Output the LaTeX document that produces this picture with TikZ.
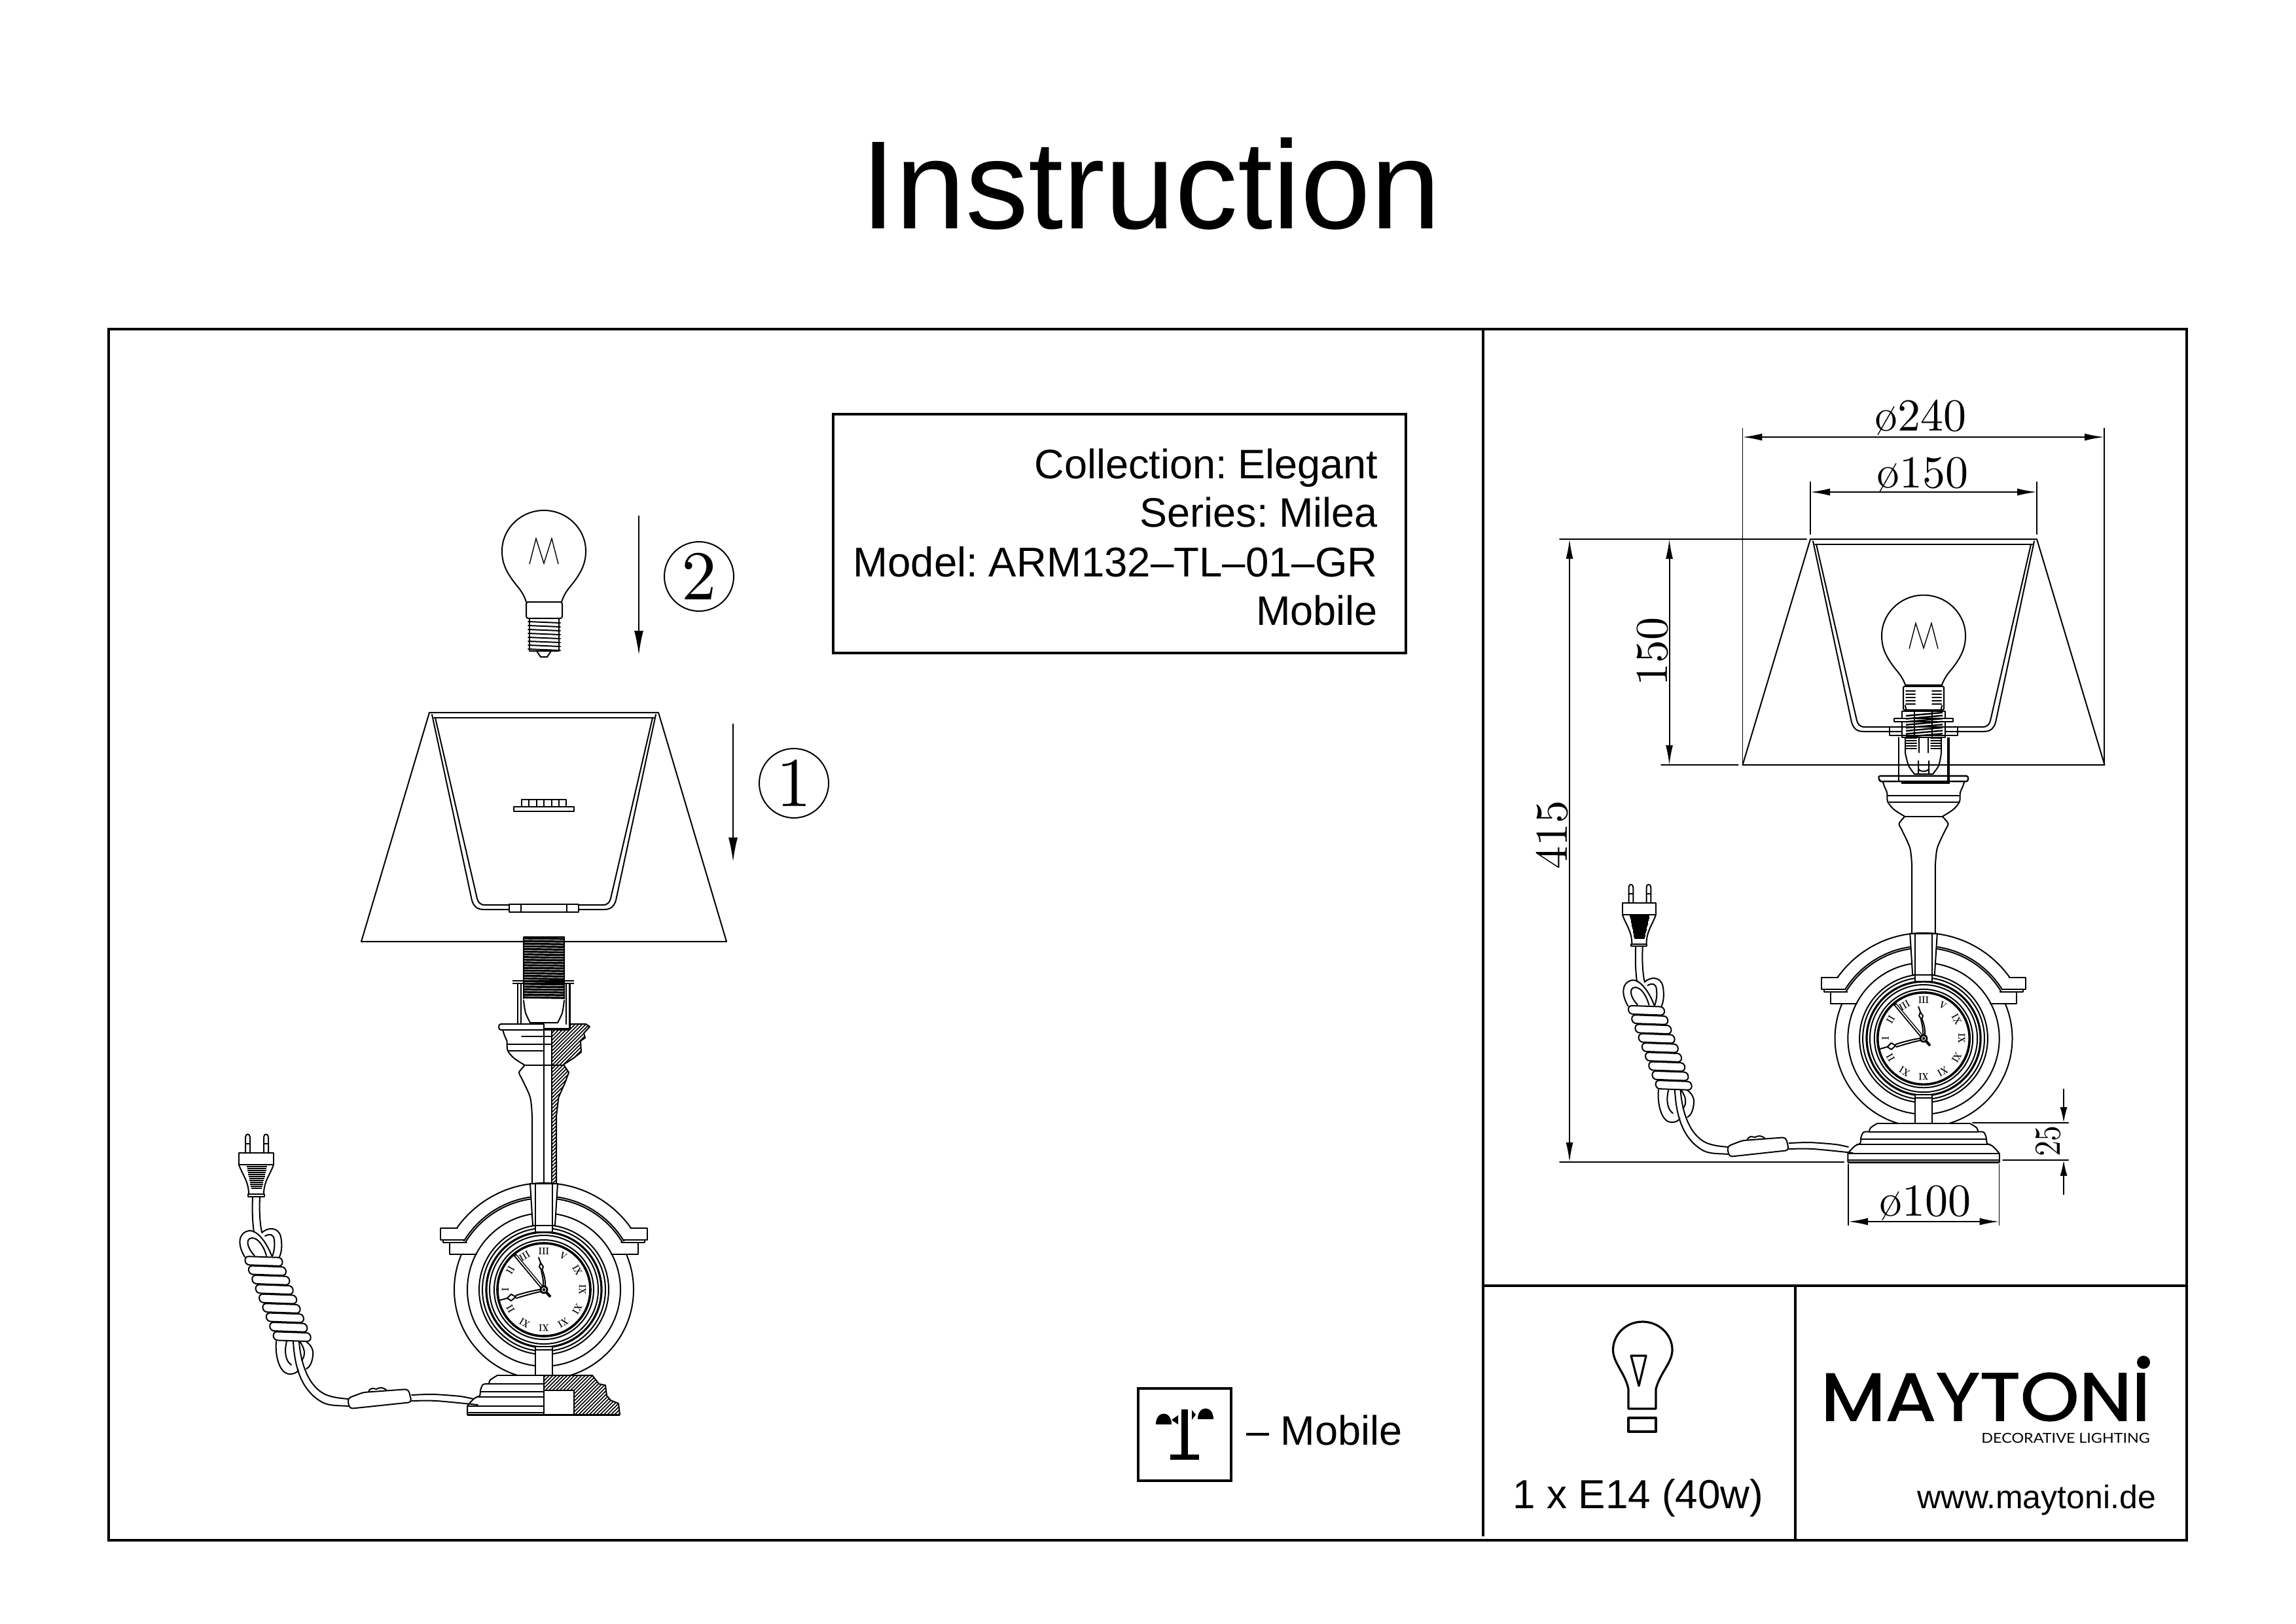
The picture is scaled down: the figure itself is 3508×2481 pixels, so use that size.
\documentclass[tikz,border=0pt]{standalone}
\usepackage{fontspec}
\setsansfont{Liberation Sans}
\newfontfamily\tightsans{Liberation Sans}[WordSpace=0.6]
\newfontfamily\logofont{Poppins}[FakeBold=1.5]
\newfontfamily\subfont{Lato}
\newfontfamily\dimfont{lmroman10-regular}[Extension=.otf]
\newfontfamily\numfont{lmroman10-bold}[Extension=.otf]
\usetikzlibrary{arrows.meta}
\newcommand\fz[1]{\fontsize{#1}{#1}\selectfont}
\tikzset{
  ln/.style={line width=2pt,line join=round,line cap=round},
  thk/.style={line width=3.2pt,line join=round},
  frameline/.style={line width=4pt},
  sans/.style={font=\sffamily,inner sep=0pt},
  dimtxt/.style={inner sep=0pt},
  arr/.style={line width=2pt,-{Latex[length=37pt,width=14pt]}},
  dimarr/.style={line width=2pt,{Latex[length=30pt,width=11pt]}-{Latex[length=30pt,width=11pt]}},
  dimone/.style={line width=2pt,-{Latex[length=24pt,width=11pt]}},
  digit/.style={circle,draw,line width=2pt,minimum size=106pt,inner sep=0pt}
}
% ---- bulb glass, relative to its top centre
\newcommand\bulbglass[2]{%
 \begin{scope}[shift={(#1,#2)}]
  \draw[ln] (-27,140) .. controls (-33,122) and (-40,118) .. (-49,105)
     .. controls (-58,92) and (-64,80) .. (-64,62)
     .. controls (-64,28) and (-35,0) .. (0,0)
     .. controls (35,0) and (64,28) .. (64,62)
     .. controls (64,80) and (58,92) .. (49,105)
     .. controls (40,118) and (33,122) .. (27,140);
  \draw[line width=1.4pt,line join=miter] (-22,82) -- (-12,43) -- (0,81) -- (12,43) -- (22,82);
 \end{scope}}
% ---- shade with its wire frame
\newcommand\lampshade[6]{% cx, ytop, ybot, halftop, halfbot, hubY
 \begin{scope}[shift={(#1,0)}]
  \draw[ln] (-#4,#2) -- (#4,#2) -- (#5,#3) -- (-#5,#3) -- cycle;
  \draw[ln] (-#4+7,#2+8) -- (#4-7,#2+8);
  \draw[ln] (-#4+4,#2+3) -- (-110,#6-7) .. controls (-108,#6) and (-104,#6+7) .. (-92,#6+7) -- (92,#6+7)
        .. controls (104,#6+7) and (108,#6) .. (110,#6-7) -- (#4-4,#2+3);
  \draw[ln] (-#4+9,#2+8) -- (-103,#6-14) .. controls (-101,#6-4) and (-98,#6) .. (-90,#6) -- (90,#6)
        .. controls (98,#6) and (101,#6-4) .. (103,#6-14) -- (#4-9,#2+8);
 \end{scope}}
% ---- parts that both views share
\newcommand\ledge{%
  \draw[ln,fill=white] (699,1877) -- (673,1877) -- (673,1895) -- (710,1895);
  \draw[ln] (677,1895) -- (677,1899) -- (713,1899);
  \draw[ln] (687,1899) -- (687,1917) -- (728,1917);
}
\newcommand\halflamp{%
  \draw[ln,fill=white] (831,1565) -- (765,1565) .. controls (761,1565) and (761,1574) .. (765,1574) -- (831,1574);
  \draw[ln] plot[smooth] coordinates {(768,1574) (771,1583) (774.5,1591) (775.5,1605) (785,1617) (802,1628)};
  \draw[ln] (802,1628) -- (831,1628);
  \draw[ln] (775,1596) -- (831,1596) (776,1606) -- (831,1606);
  \draw[ln] plot[smooth] coordinates {(802,1628) (793,1639) (797,1648) (810,1677) (813,1706)} -- (813,1809);
  \draw[ln] (760,2102) -- (831,2102);
  \draw[ln] plot[smooth] coordinates {(760,2102) (749,2109) (747,2115)};
  \draw[ln] plot[smooth] coordinates {(747,2115) (738,2116) (734,2125) (733,2133) (725,2137) (717,2145) (714,2149)} -- (714,2162);
  \draw[ln] (747,2115) -- (831,2115) (734,2127) -- (831,2127) (728,2135) -- (831,2135) (714,2149) -- (831,2149) (714,2159) -- (831,2159);
  \draw[line width=3pt] (714,2162) -- (831,2162);
}
\newcommand\clockparts{%
  \begin{scope}\clip (500,1700) rectangle (1160,1877); \draw[ln] (831,1971) circle (163pt); \end{scope}
  \begin{scope}\clip (500,1700) rectangle (1160,1896); \draw[ln] (831,1971) circle (143pt); \end{scope}
  \begin{scope}\clip (500,1700) rectangle (1160,1899); \draw[ln] (831,1971) circle (140pt); \end{scope}
  \begin{scope}\clip (500,1917) rectangle (1160,2102); \draw[ln] (831,1971) circle (137pt); \end{scope}
  \begin{scope}\clip (500,1700) rectangle (1160,2102); \draw[ln] (831,1971) circle (117pt); \end{scope}
  \ledge
  \begin{scope}[shift={(1662,0)},xscale=-1]\ledge\end{scope}
  \draw[ln,fill=white] (831,1971) circle (99pt);
  \draw[ln] (831,1971) circle (94pt);
  \draw[thk] (831,1971) circle (88pt);
  \draw[ln] (831,1971) circle (83pt);
  \draw[ln] (831,1971) circle (76pt);
  \draw[line width=3.6pt] (831,1971) circle (71pt);
  \draw[ln,fill=white] (810,1809) -- (852,1809) -- (848,1873) -- (814,1873) -- cycle;
  \draw[ln] (818,1809) -- (818,1873) (844,1809) -- (844,1873);
  \draw[ln,fill=white] (818,1873) rectangle (844,1883);
  \draw[ln,fill=white] (818,2102) -- (818,2058) -- (844,2058) -- (844,2102);
  \draw[ln] (818,2063) -- (844,2063);
  \foreach \t/\a in {III/0,V/30,IX/60,IX/90,XI/120,XI/150,XI/180,XI/210,II/240,I/270,II/300,III/330}
    \node[inner sep=0pt,rotate=-\a,font=\numfont\fz{15}] at ({831+59*sin(\a)},{1971-59*cos(\a)}) {\scalebox{.78}[1]{\t}};
  \draw[line width=5pt] (831,1971) -- (786,1917);
  \draw[white,line width=1.6pt] (828,1967) -- (788,1919);
  \draw[line width=4pt] (831,1971) -- (841,1982);
  \draw[ln] (830,1971) .. controls (831,1960) and (829,1950) .. (827,1942);
  \draw[ln] (833,1971) .. controls (834,1960) and (832,1950) .. (829,1942);
  \draw[ln,fill=white] (828,1942) -- (824,1936) -- (826,1930) -- (830,1936) -- cycle;
  \draw[ln] (826,1930) -- (823,1922);
  \draw[ln] (831,1970) .. controls (815,1972) and (800,1976) .. (788,1980);
  \draw[ln] (831,1973) .. controls (815,1976) and (802,1980) .. (789,1984);
  \draw[ln,fill=white] (788,1982) -- (781,1978) -- (775,1984) -- (781,1988) -- cycle;
  \draw[ln] (775,1984) -- (764,1987);
  \fill (831,1971) circle (6.5pt);
  \draw[white,line width=1pt] (831,1971) circle (3pt);
}
% ---- cord with plug, coil and switch
\newcommand\cord{%
  \draw[ln] (375,1762) -- (375,1738) .. controls (375,1732) and (382,1732) .. (382,1738) -- (382,1762);
  \draw[ln] (375,1748) -- (382,1748);
  \draw[ln] (403,1762) -- (403,1738) .. controls (403,1732) and (410,1732) .. (410,1738) -- (410,1762);
  \draw[ln] (403,1748) -- (410,1748);
  \draw[ln] (365,1762) rectangle (418,1780);
  \draw[ln] (365,1780) .. controls (370,1795) and (380,1805) .. (380,1825);
  \draw[ln] (418,1780) .. controls (413,1795) and (403,1805) .. (403,1825);
  \draw[ln] (379,1825) rectangle (404,1829);
  \foreach \i in {0,...,11}
    \draw[line width=2.8pt] ({377+\i*0.6},{1783+3*\i}) -- ({408-\i*0.7},{1783+3*\i});
  \draw[ln] (386,1830) .. controls (385,1850) and (386,1870) .. (388,1883);
  \draw[ln] (397,1830) .. controls (396,1850) and (397,1870) .. (400,1883);
  % top knot
  \draw[ln] (374,1921) .. controls (364,1905) and (362,1885) .. (380,1881) .. controls (395,1879) and (410,1905) .. (415,1919);
  \draw[ln] (389,1919) .. controls (378,1908) and (374,1893) .. (385,1892) .. controls (396,1892) and (404,1908) .. (407,1919);
  \draw[ln] (400,1884) .. controls (408,1876) and (425,1874) .. (429,1890) .. controls (431,1900) and (431,1912) .. (427,1921);
  \draw[ln] (405,1889) .. controls (412,1885) and (418,1886) .. (419,1895) .. controls (420,1905) and (419,1912) .. (416,1920);
  % bottom loops
  \draw[ln] (422,2050) .. controls (420,2075) and (428,2100) .. (443,2100) .. controls (450,2100) and (454,2097) .. (456,2094);
  \draw[ln] (438,2050) .. controls (434,2065) and (436,2080) .. (445,2086);
  \draw[ln] (462,2047) .. controls (472,2052) and (480,2060) .. (478,2072) .. controls (477,2082) and (473,2090) .. (468,2092);
  \draw[ln] (458,2050) .. controls (465,2060) and (468,2070) .. (461,2079);
  % coil
  \foreach \i in {8,7,...,0}{
    \pgfmathsetmacro\xx{374+5.4*\i}
    \pgfmathsetmacro\yy{1920+14.4*\i}
    \draw[ln,fill=white,rounded corners=6pt] (\xx,\yy) -- ({\xx+57},{\yy+2}) -- ({\xx+58},{\yy+15}) -- ({\xx+1},{\yy+13}) -- cycle;
  }
  % cord to the switch and to the base
  \draw[ln] (448,2050) .. controls (450,2085) and (458,2125) .. (494,2144) .. controls (505,2149) and (520,2148) .. (532,2149);
  \draw[ln] (457,2050) .. controls (459,2080) and (470,2120) .. (499,2132) .. controls (510,2136) and (520,2137) .. (532,2138);
  \draw[ln] (563,2127) .. controls (566,2120) and (570,2122) .. (575,2123) .. controls (580,2120) and (586,2120) .. (591,2125);
  \draw[ln,fill=white,rounded corners=5pt] (531,2137) -- (555,2128) -- (624,2123) -- (629,2143) -- (534,2153) -- cycle;
  \draw[ln] plot[smooth] coordinates {(629,2132) (662,2131) (703,2134) (723,2138)};
  \draw[ln] plot[smooth] coordinates {(629,2141) (667,2141) (730,2147)};
}
\begin{document}
\begin{tikzpicture}[x=1pt,y=-1pt]
\useasboundingbox (0,0) rectangle (3508,2481);
\fill[white] (0,0) rectangle (3508,2481);
% title and frame
\node[sans,anchor=base,font=\sffamily\fz{192}] (title) at (1758,349) {Instruction};
\draw[frameline] (166,503) rectangle (3341,2354);
\draw[line width=3.4pt] (2266,503) -- (2266,2348);
\draw[line width=3.4pt] (2266,1965) -- (3341,1965);
\draw[line width=3.4pt] (2743,1965) -- (2743,2354);
% info box
\draw[frameline] (1273,633) rectangle (2148,998);
\node[inner sep=0pt,anchor=base east,font=\tightsans\fz{63}] (coll) at (2105,731) {Collection: Elegant};
\node[inner sep=0pt,anchor=base east,font=\tightsans\fz{63}] (ser) at (2105,805) {Series: Milea};
\node[inner sep=0pt,anchor=base east,font=\tightsans\fz{63.6}] (mod) at (2105,881) {Model: ARM132–TL–01–GR};
\node[sans,anchor=base east,font=\sffamily\fz{63}] (mob) at (2105,955) {Mobile};
% mobile icon
\draw[frameline] (1739,2122) rectangle (1881,2263);
\fill (1805,2154) rectangle (1815,2223);
\fill (1788,2223) rectangle (1832,2231);
\fill (1766,2177) .. controls (1766,2155) and (1790,2155) .. (1790,2177) -- cycle;
\fill (1790,2170) -- (1800,2163) -- (1800,2177) -- cycle;
\fill (1854,2169) .. controls (1854,2147) and (1830,2147) .. (1830,2169) -- cycle;
\fill (1827,2162) -- (1821,2155) -- (1821,2170) -- cycle;
\node[sans,anchor=base west,font=\sffamily\fz{63}] (moblab) at (1904,2208) {– Mobile};
% bulb rating cell
\draw[thk] (2488,2123) -- (2488,2153) -- (2530,2153) -- (2530,2123)
   .. controls (2536,2098) and (2555,2083) .. (2555,2063)
   .. controls (2555,2040) and (2535,2020) .. (2509.5,2020)
   .. controls (2484,2020) and (2464.5,2040) .. (2464.5,2063)
   .. controls (2464.5,2083) and (2483,2098) .. (2488,2123);
\draw[thk] (2492,2072) -- (2515,2072) -- (2504,2118) -- cycle;
\draw[thk] (2488,2167) rectangle (2530,2188);
\node[sans,anchor=base,font=\sffamily\fz{62}] (rating) at (2503,2305) {1 x E14 (40w)};
% logo
\node[inner sep=0pt,anchor=south west] (logo) at (2782,2172) {\resizebox{503pt}{73pt}{\logofont MAYTONI}};
\fill (3275,2082) circle (10pt);
\node[inner sep=0pt,anchor=base east,font=\subfont\fz{21}] (deco) at (3285,2205) {\scalebox{1.11}[1]{DECORATIVE LIGHTING}};
\node[sans,anchor=base east,font=\sffamily\fz{50}] (web) at (3294,2305) {www.maytoni.de};

% ======= LEFT VIEW =======
\bulbglass{831}{780}
\draw[ln,fill=white,rounded corners=3pt] (804,920) -- (804,945) -- (859,945) -- (859,920) -- cycle;
\draw[ln] (809,946) -- (809,995) -- (854,995) -- (854,946);
\foreach \i in {0,...,7} \draw[ln] (807,{950+6*\i}) -- (856,{952+6*\i});
\draw[ln] (820,995) -- (826,1004) -- (836,1004) -- (842,995);
\coordinate (a2s) at (976,788); \coordinate (a2e) at (976,1001);
\draw[arr] (a2s) -- (a2e);
\node[digit,font=\dimfont\fz{107}] (two) at (1068,881) {2};
\coordinate (a1s) at (1120,1106); \coordinate (a1e) at (1120,1317);
\draw[arr] (a1s) -- (a1e);
\node[digit,font=\dimfont\fz{107}] (one) at (1213,1197) {1};
\lampshade{831}{1089}{1439}{175}{279}{1383}
\draw[ln,fill=white] (778,1382) rectangle (884,1394);
\draw[ln] (796,1382) -- (796,1394) (866,1382) -- (866,1394);
\draw[ln] (785,1233) rectangle (877,1240);
\draw[ln] (797,1222) rectangle (865,1233);
\foreach \x in {808,820,831,843,854} \draw[ln] (\x,1222) -- (\x,1233);
% left socket
\draw[line width=2pt] (783,1499) -- (877,1499) (783,1503) -- (877,1503);
\draw[ln] (791,1503) -- (791,1572) -- (870,1572);
\draw[line width=3pt] (870,1503) -- (870,1574);
\draw[ln] (796,1503) -- (796,1565);
\draw[ln] (865,1503) -- (865,1565);
\draw[ln] plot[smooth] coordinates {(800,1529) (803,1548) (810,1563)} -- (852,1563);
\draw[ln] plot[smooth] coordinates {(862,1529) (859,1548) (852,1563)};
\draw[ln] (800,1432) -- (800,1526) (862,1432) -- (862,1526) (800,1432) -- (862,1432);
\foreach \i in {0,...,22}
  \draw[line width=3.2pt] (799,{1434+4.1*\i}) -- (863,{1435+4.1*\i});
\clockparts
\halflamp
\draw[ln] (797,1584) -- (843,1584);
% cut section
\begin{scope}
 \clip (872,1565) -- (895,1565) -- (901,1569) -- (892,1579) -- (894,1586) -- (887,1591) -- (888,1608) -- (876.5,1617) -- (861,1627) -- (843,1627) -- (843,1574) -- (872,1574) -- cycle
       (843,1629) -- (861,1629) -- (869,1639) -- (864,1653) -- (853.5,1677) -- (850,1706) -- (850,1809) -- (843,1809) -- cycle;
 \foreach \i in {0,...,70} \draw[line width=1.7pt] ({840+5.5*\i},1560) -- ({840+5.5*\i-260},1820);
\end{scope}
\draw[ln] (870,1565) -- (895,1565) -- (901,1569) -- (892,1579) -- (894,1586) -- (887,1591) -- (888,1608) -- (876.5,1617) -- (861,1627) -- (869,1639) -- (864,1653) -- (853.5,1677) -- (850,1706) -- (850,1809);
\draw[ln] (870,1574) -- (831,1574) (831,1628) -- (861,1628) (843,1574) -- (843,1809);
\draw[line width=2.6pt] (831,1565) -- (831,1809);
\draw[ln] (831,1596) -- (843,1596);
\begin{scope}
 \clip (831,2102) -- (905,2102) -- (915,2115) -- (925,2117) -- (927,2133) -- (933,2140) -- (945,2145) -- (947,2162) -- (877,2162) -- (877,2125) -- (831,2125) -- cycle;
 \foreach \i in {0,...,60} \draw[line width=1.7pt] ({830+5.5*\i},2095) -- ({830+5.5*\i-80},2175);
\end{scope}
\draw[ln] (831,2102) -- (905,2102) -- (915,2115) -- (925,2117) -- (927,2133) -- (933,2140) -- (945,2145) -- (947,2162);
\draw[ln] (831,2125) -- (877,2125) -- (877,2162);
\draw[line width=3pt] (831,2162) -- (947,2162);
\draw[line width=2.6pt] (831,2102) -- (831,2162);
\cord

% ======= RIGHT VIEW =======
\begin{scope}[shift={(2939,1776)},scale=0.989,shift={(-831,-2162)}]
 \clockparts
 \halflamp
 \begin{scope}[shift={(1662,0)},xscale=-1]\halflamp\end{scope}
\end{scope}
\begin{scope}[shift={(2127,-367.9)},xscale=.964,yscale=.992]\cord\end{scope}
\lampshade{2939}{824}{1169}{173}{276.5}{1111}
\bulbglass{2939}{909.5}
% right socket
\draw[ln,fill=white] (2871,1190) .. controls (2869,1186) and (2871,1186) .. (2875,1186) -- (3003,1186) .. controls (3007,1186) and (3009,1190) .. (3005,1194) -- (2873,1194) -- cycle;
\draw[ln,fill=white,rounded corners=2pt] (2908,1049) rectangle (2970,1085);
\draw[ln] (2912,1047) -- (2966,1047);
\foreach \i in {0,...,4} {\draw[ln] (2912,{1056+5*\i}) -- (2926,{1056+5*\i}); \draw[ln] (2952,{1056+5*\i}) -- (2966,{1056+5*\i});}
\draw[ln] (2911,1078) .. controls (2912,1086) and (2914,1088) .. (2918,1090) (2967,1078) .. controls (2966,1086) and (2964,1088) .. (2960,1090);
\draw[ln,fill=white] (2906,1087) rectangle (2972,1127);
\draw[ln,fill=white] (2894,1098) rectangle (2984,1103);
\foreach \i in {0,...,7} \draw[line width=2.4pt] (2912,{1094+4.6*\i}) -- (2968,{1089+4.6*\i});
\draw[ln] (2925,1087) -- (2925,1125) (2952,1087) -- (2952,1125);
\draw[ln,fill=none] (2887,1111) rectangle (2991,1124);
\draw[ln] (2901,1127) -- (2901,1193);
\draw[line width=3.4pt] (2977,1127) -- (2977,1196) -- (2905,1196);
\draw[ln] (2911,1127) -- (2911,1151) (2966,1127) -- (2966,1151);
\foreach \i in {0,...,4} {\draw[ln] (2912,{1128+4*\i}) -- (2928,{1128+4*\i}); \draw[ln] (2950,{1128+4*\i}) -- (2966,{1128+4*\i});}
\draw[ln] (2932,1127) -- (2932,1150) (2946,1127) -- (2946,1150);
\draw[ln] plot[smooth] coordinates {(2911,1151) (2916,1170) (2925,1183)} -- (2953,1183);
\draw[ln] plot[smooth] coordinates {(2966,1151) (2962,1170) (2953,1183)};
\draw[ln] (2931,1163) -- (2931,1183) (2947,1163) -- (2947,1183) (2931,1175) .. controls (2933,1180) and (2945,1180) .. (2947,1175);
% dimensions
\draw[line width=1.6pt] (2662.4,654) -- (2662.4,1169) (3215,654) -- (3215,1169);
\draw[line width=1.6pt] (2766,736) -- (2766,817) (3112,736) -- (3112,817);
\draw[dimarr] (2662.4,668) -- (3215,668);
\draw[dimarr] (2766,752) -- (3112,752);
\node[dimtxt,anchor=base,font=\dimfont\fz{70}] (d240) at (2934,658) {\o240};
\node[dimtxt,anchor=base,font=\dimfont\fz{70}] (d150) at (2937,745) {\o150};
\draw[ln] (2383,824) -- (2760,824) (2538,1169) -- (2655.5,1169) (2383,1776) -- (2817,1776);
\draw[dimarr] (2550.5,824) -- (2550.5,1169);
\draw[dimarr] (2398,824) -- (2398,1776);
\node[dimtxt,anchor=base,rotate=90,font=\dimfont\fz{70}] (v150) at (2547,996) {150};
\node[dimtxt,anchor=base,rotate=90,font=\dimfont\fz{70}] (v415) at (2394,1276) {415};
\draw[ln] (3014,1716) -- (3160,1716) (3060,1773) -- (3160,1773);
\draw[dimone] (3153,1664) -- (3153,1716);
\draw[dimone] (3153,1826) -- (3153,1773);
\node[dimtxt,anchor=base,rotate=90,font=\dimfont\fz{56}] (v25) at (3147,1744) {\scalebox{.85}[1]{25}};
\draw[line width=1.6pt] (2824,1779) -- (2824,1873) (3054.5,1779) -- (3054.5,1873);
\draw[dimarr] (2824,1867) -- (3054.5,1867);
\node[dimtxt,anchor=base,font=\dimfont\fz{70}] (d100) at (2941.5,1858) {\o100};
\end{tikzpicture}
\end{document}
